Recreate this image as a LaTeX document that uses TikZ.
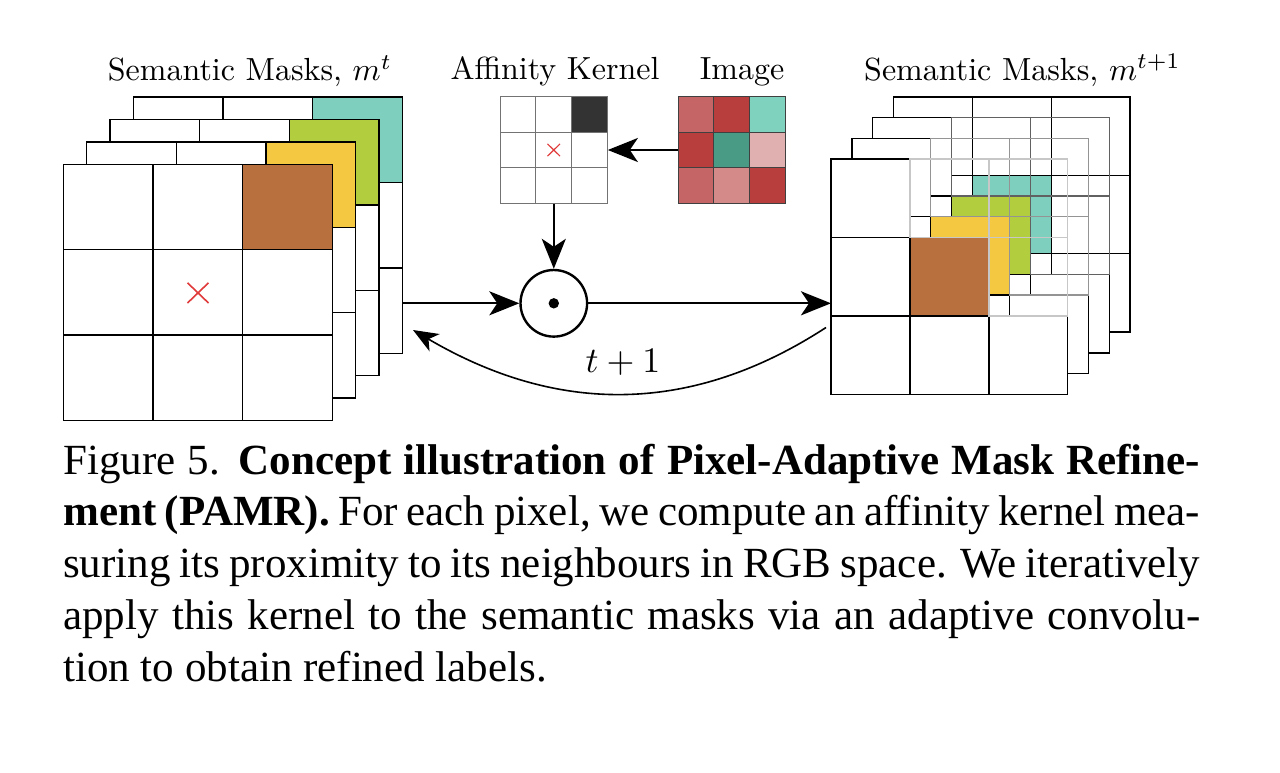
\documentclass[tikz,border=0pt]{standalone}
\usepackage{fontspec}
\newfontfamily\capfont{Liberation Serif}
\usetikzlibrary{arrows.meta}
\definecolor{cbrown}{HTML}{B8703F}
\definecolor{cyellow}{HTML}{F5C842}
\definecolor{cgreen}{HTML}{B2CE3E}
\definecolor{cteal}{HTML}{7ECFBE}
\definecolor{imA}{HTML}{C66565}
\definecolor{imB}{HTML}{B83D3D}
\definecolor{imC}{HTML}{7ED2BE}
\definecolor{imD}{HTML}{4A9B86}
\definecolor{imE}{HTML}{E0AFAF}
\definecolor{imF}{HTML}{D58A8A}
\definecolor{xred}{HTML}{E03A3A}
\definecolor{kdark}{HTML}{333333}
\begin{document}
\begin{tikzpicture}[x=1pt,y=-1pt,
  gline/.style={line width=1.4pt, draw=black},
  arr/.style={line width=2.2pt, -{Stealth[length=30pt,width=24pt,inset=8pt]}},
  carr/.style={line width=1.6pt, -{Stealth[length=25pt,width=20pt,inset=7pt]}},
  lab/.style={scale=3.2, inner sep=0pt},
  capline/.style={anchor=base west, inner sep=0pt, font={\capfont\fontsize{43}{52}\selectfont}},
  box/.style={inner sep=0pt, draw=none}
]
\useasboundingbox (0,0) rectangle (1280,772);
\fill[white] (0,0) rectangle (1280,772);

% ---------- left stack m^t ----------
\foreach \k/\col in {3/cteal,2/cgreen,1/cyellow,0/cbrown} {
  \begin{scope}[shift={(63.3+23.35*\k,164.3-22.43*\k)}]
    \filldraw[gline, fill=white] (0,0) rectangle (269,256.2);
    \fill[\col] (179.3,0) rectangle (269,85.4);
    \draw[gline] (0,0) rectangle (269,256.2);
    \draw[gline] (89.7,0) -- (89.7,256.2) (179.3,0) -- (179.3,256.2)
                 (0,85.4) -- (269,85.4) (0,170.8) -- (269,170.8);
  \end{scope}
}
\draw[xred, line width=1.6pt] (187.5,282.8) -- (208.5,303) (187.5,303) -- (208.5,282.8);

% ---------- right stack m^{t+1} ----------
\def\cw{78.9}
\def\ch{78.4}
\foreach \k/\col/\gc in {3/cteal/black,2/cgreen/black!62,1/cyellow/black!42,0/cbrown/black!22} {
  \begin{scope}[shift={(831+20.8*\k,159-20.67*\k)}]
    % opaque cells
    \filldraw[gline, fill=white] (0,0) rectangle (\cw,\ch);
    \filldraw[gline, fill=white] (0,\ch) rectangle (\cw,2*\ch);
    \filldraw[gline, fill=white] (0,2*\ch) rectangle (\cw,3*\ch);
    \filldraw[gline, fill=white] (\cw,2*\ch) rectangle (2*\cw,3*\ch);
    \filldraw[gline, fill=white] (2*\cw,2*\ch) rectangle (3*\cw,3*\ch);
    % coloured cell
    \filldraw[gline, fill=\col] (\cw,\ch) rectangle (2*\cw,2*\ch);
    % transparent cells
    \draw[line width=1.4pt, draw=\gc] (\cw,0) rectangle (2*\cw,\ch);
    \draw[line width=1.4pt, draw=\gc] (2*\cw,0) rectangle (3*\cw,\ch);
    \draw[line width=1.4pt, draw=\gc] (2*\cw,\ch) rectangle (3*\cw,2*\ch);
  \end{scope}
}

% ---------- affinity kernel ----------
\node[box, minimum width=107.7pt, minimum height=106.6pt] (kernel) at (553.8,150) {};
\fill[kdark] (572.0,96.7) rectangle (607.7,132.2);
\draw[black!55, line width=1pt] (500,96.7) rectangle (607.7,203.3)
  (535.9,96.7) -- (535.9,203.3) (571.8,96.7) -- (571.8,203.3)
  (500,132.2) -- (607.7,132.2) (500,167.8) -- (607.7,167.8);
\draw[xred, line width=1.1pt] (547.5,143.8) -- (560,156.2) (547.5,156.2) -- (560,143.8);

% ---------- image ----------
\node[box, minimum width=106.7pt, minimum height=106.6pt] (img) at (731.7,150) {};
\foreach \r/\c/\cc in {0/0/imA,0/1/imB,0/2/imC,1/0/imB,1/1/imD,1/2/imE,2/0/imA,2/1/imF,2/2/imB} {
  \filldraw[fill=\cc, draw=black!75, line width=0.8pt]
    (678.3+35.57*\c,96.7+35.53*\r) rectangle (678.3+35.57*\c+35.57,96.7+35.53*\r+35.53);
}

% ---------- operator ----------
\node[circle, draw, line width=2.4pt, minimum size=66.6pt, inner sep=0pt] (odot) at (553.8,303.3) {};
\fill (odot.center) circle (5.2pt);

% ---------- connectors ----------
\coordinate (lsout) at (403.3,303.3);
\coordinate (rsin) at (831,303.3);
\coordinate (rsback) at (826,327.5);
\coordinate (lsback) at (413,330);
\draw[arr] (img.west) -- (kernel.east);
\draw[arr] (kernel.south) -- (odot.north);
\draw[arr] (lsout) -- (odot.west);
\draw[arr] (odot.east) -- (rsin);
\draw[carr] (rsback) .. controls (690,416) and (556,414) .. (lsback);

% ---------- labels ----------
\node[lab, anchor=base] (lblL) at (250,80.7) {Semantic Masks, $m^t$};
\node[lab, anchor=base] (lblK) at (555,79.3) {Affinity Kernel};
\node[lab, anchor=base] (lblI) at (742,79.3) {Image};
\node[lab, anchor=base] (lblR) at (1022.5,80) {Semantic Masks, $m^{t+1}$};
\node[lab, anchor=base, scale=1.12] (lblT) at (623,372.7) {$t+1$};

% ---------- caption ----------
\node[capline] (cap1) at (63,474) {\hbox to 1137pt{Figure 5. \textbf{Concept illustration of Pixel-Adaptive Mask Refine-}}};
\node[capline] (cap2) at (63,525.8) {\hbox to 1137pt{\textbf{ment (PAMR).} For each pixel, we compute an affinity kernel mea-}};
\node[capline] (cap3) at (63,577.6) {\hbox to 1137pt{suring its proximity to its neighbours in RGB space. We iteratively}};
\node[capline] (cap4) at (63,629.4) {\hbox to 1137pt{apply this kernel to the semantic masks via an adaptive convolu-}};
\node[capline] (cap5) at (63,681.2) {tion to obtain refined labels.};
\end{tikzpicture}
\end{document}
